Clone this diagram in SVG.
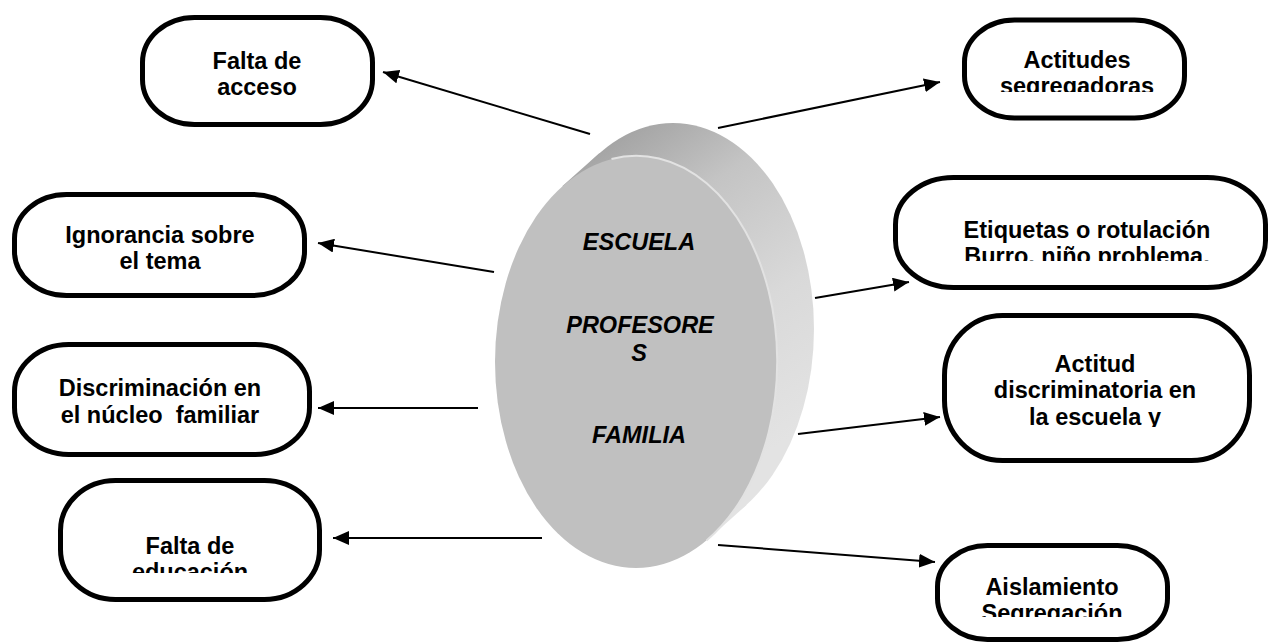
<svg xmlns="http://www.w3.org/2000/svg" width="1270" height="642" viewBox="0 0 1270 642">
<style>
.box{fill:#fff;stroke:#000;stroke-width:5}
.t{font-family:"Liberation Sans",Arial,sans-serif;font-weight:bold;font-size:23.5px;text-anchor:middle;fill:#000}
.d{font-family:"Liberation Sans",Arial,sans-serif;font-weight:bold;font-style:italic;font-size:23.5px;text-anchor:middle;fill:#000}
.c{stroke:#000;stroke-width:2;fill:none;marker-end:url(#ah)}
</style>
<defs>
<marker id="ah" markerUnits="userSpaceOnUse" markerWidth="18" markerHeight="14" refX="16" refY="7" orient="auto">
<path d="M0,0 L16,7 L0,14 Z" fill="#000"/>
</marker>
<linearGradient id="side" gradientUnits="userSpaceOnUse" x1="610" y1="120" x2="815" y2="420">
<stop offset="0" stop-color="#9e9e9e"/>
<stop offset="0.3" stop-color="#c4c4c4"/>
<stop offset="0.65" stop-color="#d9d9d9"/>
<stop offset="1" stop-color="#e3e3e3"/>
</linearGradient>
<clipPath id="c2"><rect x="960" y="15" width="230" height="77"/></clipPath>
<clipPath id="c3"><rect x="10" y="190" width="300" height="81"/></clipPath>
<clipPath id="c5"><rect x="55" y="475" width="270" height="98"/></clipPath>
<clipPath id="c6"><rect x="890" y="172" width="380" height="89"/></clipPath>
<clipPath id="c7"><rect x="940" y="310" width="315" height="117"/></clipPath>
<clipPath id="c8"><rect x="930" y="540" width="245" height="77"/></clipPath>
</defs>
<rect width="1270" height="642" fill="#fff"/>

<g id="centro">
<ellipse cx="673" cy="329" rx="141" ry="206" fill="url(#side)"/>
<polygon points="562.5,186 599.5,153 746.5,505 709.5,538" fill="url(#side)"/>
<ellipse cx="636" cy="362" rx="141" ry="206" fill="#c0c0c0"/>
<path d="M611.5,159 A141,206 0 0 1 706.5,540.4" fill="none" stroke="#e2e2e2" stroke-width="2"/>
<text class="d" x="639" y="250">ESCUELA</text>
<text class="d" x="640" y="333">PROFESORE</text>
<text class="d" x="639" y="361">S</text>
<text class="d" x="639" y="443">FAMILIA</text>
</g>

<g id="connectors">
<line class="c" x1="590" y1="134" x2="383" y2="72"/>
<line class="c" x1="718" y1="128" x2="940" y2="82"/>
<line class="c" x1="494" y1="272" x2="318" y2="243"/>
<line class="c" x1="478" y1="408" x2="318" y2="408"/>
<line class="c" x1="542" y1="538" x2="333" y2="538"/>
<line class="c" x1="815" y1="298" x2="909" y2="282"/>
<line class="c" x1="798" y1="434" x2="940" y2="417"/>
<line class="c" x1="718" y1="545" x2="935" y2="562"/>
</g>

<g id="n1">
<rect class="box" x="142.5" y="17.5" width="230" height="107" rx="52" ry="45"/>
<text class="t" x="257" y="69">Falta de</text>
<text class="t" x="257" y="95">acceso</text>
</g>
<g id="n2">
<rect class="box" x="964.5" y="20" width="220" height="98" rx="50" ry="42"/>
<g clip-path="url(#c2)">
<text class="t" x="1077" y="68">Actitudes</text>
<text class="t" x="1077" y="94">segregadoras</text>
</g>
</g>
<g id="n3">
<rect class="box" x="14.5" y="194.5" width="290" height="101" rx="52" ry="44"/>
<g clip-path="url(#c3)">
<text class="t" x="160" y="243">Ignorancia sobre</text>
<text class="t" x="160" y="269">el tema</text>
</g>
</g>
<g id="n4">
<rect class="box" x="14.5" y="344.5" width="295" height="110" rx="54" ry="47"/>
<text class="t" x="160" y="396">Discriminación en</text>
<text class="t" x="160" y="423" xml:space="preserve">el núcleo  familiar</text>
</g>
<g id="n5">
<rect class="box" x="60.5" y="480.5" width="259" height="119" rx="55" ry="50"/>
<g clip-path="url(#c5)">
<text class="t" x="190" y="554">Falta de</text>
<text class="t" x="190" y="580">educación</text>
</g>
</g>
<g id="n6">
<rect class="box" x="895.5" y="177.5" width="370" height="110" rx="58" ry="47"/>
<g clip-path="url(#c6)">
<text class="t" x="1087" y="238">Etiquetas o rotulación</text>
<text class="t" x="1087" y="264">Burro, niño problema,</text>
</g>
</g>
<g id="n7">
<rect class="box" x="944.5" y="315.5" width="305" height="145" rx="58" ry="60"/>
<g clip-path="url(#c7)">
<text class="t" x="1095" y="372">Actitud</text>
<text class="t" x="1095" y="398">discriminatoria en</text>
<text class="t" x="1095" y="425">la escuela y</text>
</g>
</g>
<g id="n8">
<rect class="box" x="937.5" y="545.5" width="230" height="94" rx="50" ry="41"/>
<g clip-path="url(#c8)">
<text class="t" x="1052" y="595">Aislamiento</text>
<text class="t" x="1052" y="621">Segregación</text>
</g>
</g>
</svg>
